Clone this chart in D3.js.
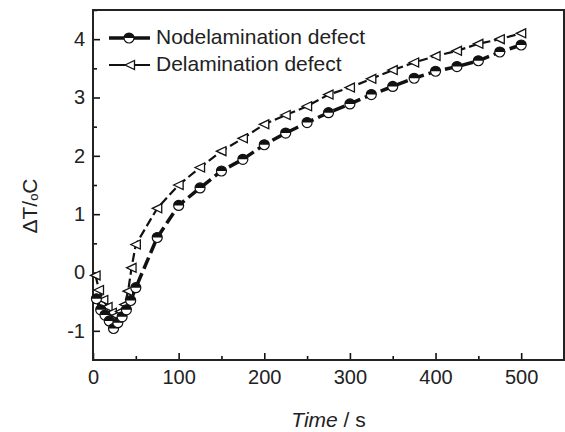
<!DOCTYPE html>
<html lang="en">
  <head>
    <meta charset="utf-8">
    <title>Delta T vs time</title>
    <style type="text/css">
      body { margin: 0; background: #fff; }
      svg { display: block; }
      text { font-family: Arial, "Liberation Sans", sans-serif; fill: #222; }
    </style>
  </head>
  <body>
    <script type="text/javascript" src="https://d3js.org/d3.v7.min.js"></script>
    <script type="text/javascript">
    // ===================================
    // DATA
    // ===================================
      var seriesNames = ["Nodelamination defect", "Delamination defect"];

      var timeNodelam = [4, 9, 14, 19, 24, 29, 34, 39, 44, 50, 75, 100, 125, 150, 175, 200,
        225, 250, 275, 300, 325, 350, 375, 400, 425, 450, 475, 500];
      var valNodelam = [-0.45, -0.64, -0.73, -0.83, -0.96, -0.86, -0.76, -0.64, -0.48, -0.26,
        0.6, 1.15, 1.45, 1.74, 1.94, 2.19, 2.39, 2.57, 2.74, 2.89, 3.05, 3.19, 3.33,
        3.45, 3.53, 3.63, 3.78, 3.9];

      var timeDelam = [3, 7, 12, 17, 22, 27, 32, 37, 41, 45, 50, 75, 100, 125, 150, 175, 200,
        225, 250, 275, 300, 325, 350, 375, 400, 425, 450, 475, 500];
      var valDelam = [-0.05, -0.3, -0.47, -0.59, -0.69, -0.74, -0.67, -0.55, -0.32, 0.08,
        0.48, 1.1, 1.5, 1.8, 2.08, 2.3, 2.54, 2.7, 2.85, 3.05, 3.17, 3.32, 3.47, 3.6,
        3.71, 3.8, 3.92, 4.0, 4.1];

      var xMajor = [0, 100, 200, 300, 400, 500];
      var xMinor = [50, 150, 250, 350, 450, 550];
      var yMajor = [-1, 0, 1, 2, 3, 4];
      var yMinor = [-0.5, 0.5, 1.5, 2.5, 3.5, 4.5];

    // ===================================
    // SETUP
    // ===================================
      var W = 565, H = 432;
      var plotL = 93, plotR = 564, plotT = 10, plotB = 360;

      var svg = d3.select("body").append("svg")
        .attr("width", W)
        .attr("height", H);

      var x = d3.scaleLinear().domain([0, 550]).range([plotL, plotR]);
      var y = d3.scaleLinear().domain([-1.5, 4.5]).range([plotB, plotT]);

      var nodelam = timeNodelam.map(function(t, i) { return [t, valNodelam[i]]; });
      var delam = timeDelam.map(function(t, i) { return [t, valDelam[i]]; });

      var line = d3.line()
        .x(function(d) { return x(d[0]); })
        .y(function(d) { return y(d[1]); });

    // ===================================
    // AXES
    // ===================================
      svg.append("g")
        .attr("transform", "translate(0," + plotB + ")")
        .call(d3.axisBottom(x).tickValues(xMajor).tickSize(-7).tickPadding(10)
          .tickFormat(function(d) { return String(d); }));
      svg.append("g")
        .attr("transform", "translate(0," + plotB + ")")
        .call(d3.axisBottom(x).tickValues(xMinor).tickSize(-4).tickFormat(""));

      svg.append("g")
        .attr("transform", "translate(" + plotL + ",0)")
        .call(d3.axisLeft(y).tickValues(yMajor).tickSize(-7).tickPadding(8)
          .tickFormat(function(d) { return String(d); }));
      svg.append("g")
        .attr("transform", "translate(" + plotL + ",0)")
        .call(d3.axisLeft(y).tickValues(yMinor).tickSize(-4).tickFormat(""));

      svg.selectAll(".domain").remove();
      svg.selectAll(".tick line").attr("stroke", "#111").attr("stroke-width", 1.6);
      svg.selectAll(".tick text")
        .attr("fill", "#222")
        .style("font-size", "20px")
        .style("font-family", "Arial, 'Liberation Sans', sans-serif");

      // frame
      svg.append("rect")
        .attr("x", plotL)
        .attr("y", plotT)
        .attr("width", plotR - plotL)
        .attr("height", plotB - plotT)
        .attr("fill", "none")
        .attr("stroke", "#222")
        .attr("stroke-width", 2);

      // axis titles
      svg.append("text")
        .attr("x", (plotL + plotR) / 2)
        .attr("y", 427)
        .attr("text-anchor", "middle")
        .style("font-size", "21px")
        .html('<tspan font-style="italic">Time</tspan> / s');

      var yt = svg.append("text")
        .attr("transform", "translate(37,206) rotate(-90)")
        .attr("text-anchor", "middle")
        .style("font-size", "21px");
      yt.append("tspan").text("\u0394T/");
      yt.append("tspan").attr("font-size", "13px").attr("dy", "1").text("o");
      yt.append("tspan").attr("dy", "-1").text("C");

    // ===================================
    // SERIES
    // ===================================
      var g = svg.append("g");

      g.append("path")
        .datum(nodelam)
        .attr("d", line)
        .attr("fill", "none")
        .attr("stroke", "#111")
        .attr("stroke-width", 3.5)
        .attr("stroke-dasharray", "12,5");

      g.append("path")
        .datum(delam)
        .attr("d", line)
        .attr("fill", "none")
        .attr("stroke", "#111")
        .attr("stroke-width", 2.2)
        .attr("stroke-dasharray", "9,4");

      function halfCircle(sel) {
        sel.append("circle")
          .attr("r", 5)
          .attr("fill", "#fff")
          .attr("stroke", "#111")
          .attr("stroke-width", 1.2);
        sel.append("path")
          .attr("d", "M-5,0A5,5 0 0 1 5,0Z")
          .attr("fill", "#111");
      }

      function leftTriangle(sel) {
        sel.append("path")
          .attr("d", "M-5,0L4.5,-4.5L4.5,4.5Z")
          .attr("fill", "#fff")
          .attr("stroke", "#111")
          .attr("stroke-width", 1.3);
      }

      g.selectAll("g.tri")
        .data(delam)
        .enter()
        .append("g")
        .attr("class", "tri")
        .attr("transform", function(d) { return "translate(" + x(d[0]) + "," + y(d[1]) + ")"; })
        .call(leftTriangle);

      g.selectAll("g.circ")
        .data(nodelam)
        .enter()
        .append("g")
        .attr("class", "circ")
        .attr("transform", function(d) { return "translate(" + x(d[0]) + "," + y(d[1]) + ")"; })
        .call(halfCircle);

    // ===================================
    // LEGEND
    // ===================================
      var legendRows = [38, 65];
      var leg = svg.append("g");

      leg.append("line")
        .attr("x1", 109).attr("x2", 150)
        .attr("y1", legendRows[0]).attr("y2", legendRows[0])
        .attr("stroke", "#111").attr("stroke-width", 3.5);
      leg.append("g")
        .attr("transform", "translate(129," + legendRows[0] + ")")
        .call(halfCircle);

      leg.append("line")
        .attr("x1", 109).attr("x2", 150)
        .attr("y1", legendRows[1]).attr("y2", legendRows[1])
        .attr("stroke", "#111").attr("stroke-width", 2.2);
      leg.append("g")
        .attr("transform", "translate(130," + legendRows[1] + ")")
        .call(leftTriangle);

      leg.selectAll("text.lab")
        .data(seriesNames)
        .enter()
        .append("text")
        .attr("class", "lab")
        .attr("x", 156)
        .attr("y", function(d, i) { return legendRows[i] + 6; })
        .style("font-size", "21px")
        .text(function(d) { return d; });
    </script>
  </body>
</html>
